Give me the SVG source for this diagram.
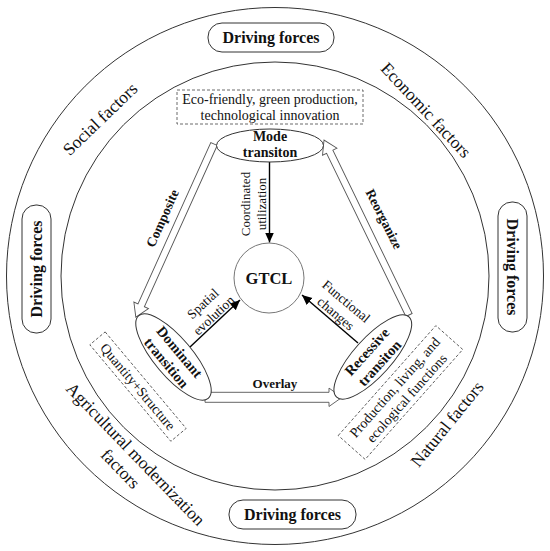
<svg xmlns="http://www.w3.org/2000/svg" width="550" height="551" viewBox="0 0 550 551">
<defs>
<style>
.t{font-family:"Liberation Serif","Times New Roman",serif;fill:#111;text-anchor:middle}
.b{font-weight:bold}
.ring{fill:none;stroke:#333;stroke-width:1}
.dash{fill:none;stroke:#444;stroke-width:0.8;stroke-dasharray:3 2}
.pill{fill:#fff;stroke:#333;stroke-width:1}
.ell{fill:#fff;stroke:#333;stroke-width:1}
.hollow{fill:#fff;stroke:#555;stroke-width:0.9}
.ln{stroke:#000;stroke-width:1.4;fill:none}
</style>
<marker id="ah" markerUnits="userSpaceOnUse" markerWidth="11" markerHeight="10" refX="10" refY="4.5" orient="auto">
<path d="M0,0 L10,4.5 L0,9 Z" fill="#000"/>
</marker>
</defs>
<rect width="550" height="551" fill="#fff"/>
<g id="rings">
<circle class="ring" cx="275" cy="276" r="268.5"/>
<circle class="ring" cx="275" cy="276" r="214"/>
</g>
<g id="ring-labels">
<text class="t" font-size="17.5" transform="translate(100,119) rotate(-44)" y="6">Social factors</text>
<text class="t" font-size="17.5" transform="translate(426,110) rotate(47)" y="6">Economic factors</text>
<text class="t" font-size="17.5" transform="translate(447,424) rotate(-51)" y="6">Natural factors</text>
<text class="t" font-size="17.5" transform="translate(128.5,461) rotate(46)"><tspan x="0" y="-4">Agricultural modernization</tspan><tspan x="0" y="17">factors</tspan></text>
</g>
<g id="driving-top"><rect class="pill" x="208" y="23" width="126" height="29" rx="14"/><text class="t b" font-size="16" x="271" y="43">Driving forces</text></g>
<g id="driving-bottom"><rect class="pill" x="229" y="500" width="127" height="29" rx="14"/><text class="t b" font-size="16" x="292.5" y="520">Driving forces</text></g>
<g id="driving-left"><rect class="pill" x="22" y="205" width="29" height="128" rx="14"/><text class="t b" font-size="16" transform="translate(36.5,269) rotate(-90)" y="5.5">Driving forces</text></g>
<g id="driving-right"><rect class="pill" x="498" y="202" width="29" height="130" rx="14"/><text class="t b" font-size="16" transform="translate(512.5,267) rotate(90)" y="5.5">Driving forces</text></g>
<g id="note-mode"><rect class="dash" x="177" y="90" width="186" height="34"/><text class="t" font-size="14"><tspan x="270" y="103.5">Eco-friendly, green production,</tspan><tspan x="270" y="119.5">technological innovation</tspan></text></g>
<g id="note-dominant" transform="translate(138,386.6) rotate(50)"><rect class="dash" x="-63" y="-10" width="126" height="20"/><text class="t" font-size="14" y="5">Quantity+Structure</text></g>
<g id="note-recessive" transform="translate(400.5,392.5) rotate(-48.4)"><rect class="dash" x="-73.5" y="-18" width="147" height="36"/><text class="t" font-size="14"><tspan x="0" y="-3">Production, living, and</tspan><tspan x="0" y="13">ecological functions</tspan></text></g>
<g id="connectors">
<polygon class="hollow" transform="translate(214,144) rotate(114.3)" points="0,-3.5 177,-3.5 177,-8 190,0 177,8 177,3.5 0,3.5"/>
<polygon class="hollow" transform="translate(409,315) rotate(-115.9)" points="0,-3.5 181.5,-3.5 181.5,-8 194.5,0 181.5,8 181.5,3.5 0,3.5"/>
<polygon class="hollow" transform="translate(205,397.3)" points="0,-5 124,-5 124,-9.2 137,0 124,9.2 124,5 0,5"/>
<line class="ln" x1="269.5" y1="162" x2="269.5" y2="242.5" marker-end="url(#ah)"/>
<line class="ln" x1="190" y1="347" x2="240" y2="300" marker-end="url(#ah)"/>
<line class="ln" x1="358" y1="343" x2="302" y2="295" marker-end="url(#ah)"/>
<text class="t b" font-size="13.5" transform="translate(162.5,218.3) rotate(-66)" y="4.5">Composite</text>
<text class="t b" font-size="13.5" transform="translate(384,219) rotate(63)" y="4.5">Reorganize</text>
<text class="t b" font-size="13" x="275" y="388">Overlay</text>
<text class="t" font-size="13" transform="translate(252.5,204) rotate(-90)"><tspan x="0" y="-2.5">Coordinated</tspan><tspan x="0" y="13">utilization</tspan></text>
<text class="t" font-size="13.5" transform="translate(208.3,309.5) rotate(-43)"><tspan x="0" y="-3.5">Spatial</tspan><tspan x="0" y="12.5">evolution</tspan></text>
<text class="t" font-size="13.5" transform="translate(341,307.5) rotate(40)"><tspan x="0" y="-3.5">Functional</tspan><tspan x="0" y="12.5">changes</tspan></text>
</g>
<g id="mode"><ellipse class="ell" cx="270" cy="145.5" rx="53.5" ry="16.5"/><text class="t b" font-size="14"><tspan x="270" y="141">Mode</tspan><tspan x="270" y="157">transiton</tspan></text></g>
<g id="dominant" transform="translate(173.5,357) rotate(50)"><ellipse class="ell" cx="0" cy="0" rx="54" ry="19"/><text class="t b" font-size="14.5"><tspan x="0" y="-3">Dominant</tspan><tspan x="0" y="14">transition</tspan></text></g>
<g id="recessive" transform="translate(372.8,357) rotate(-48)"><ellipse class="ell" cx="0" cy="0" rx="54" ry="19"/><text class="t b" font-size="14.5"><tspan x="0" y="-3">Recessive</tspan><tspan x="0" y="14">transiton</tspan></text></g>
<g id="gtcl"><circle cx="269" cy="278" r="35" fill="#fff" stroke="#777" stroke-width="1"/><text class="t b" font-size="16.5" x="269" y="284">GTCL</text></g>
</svg>
